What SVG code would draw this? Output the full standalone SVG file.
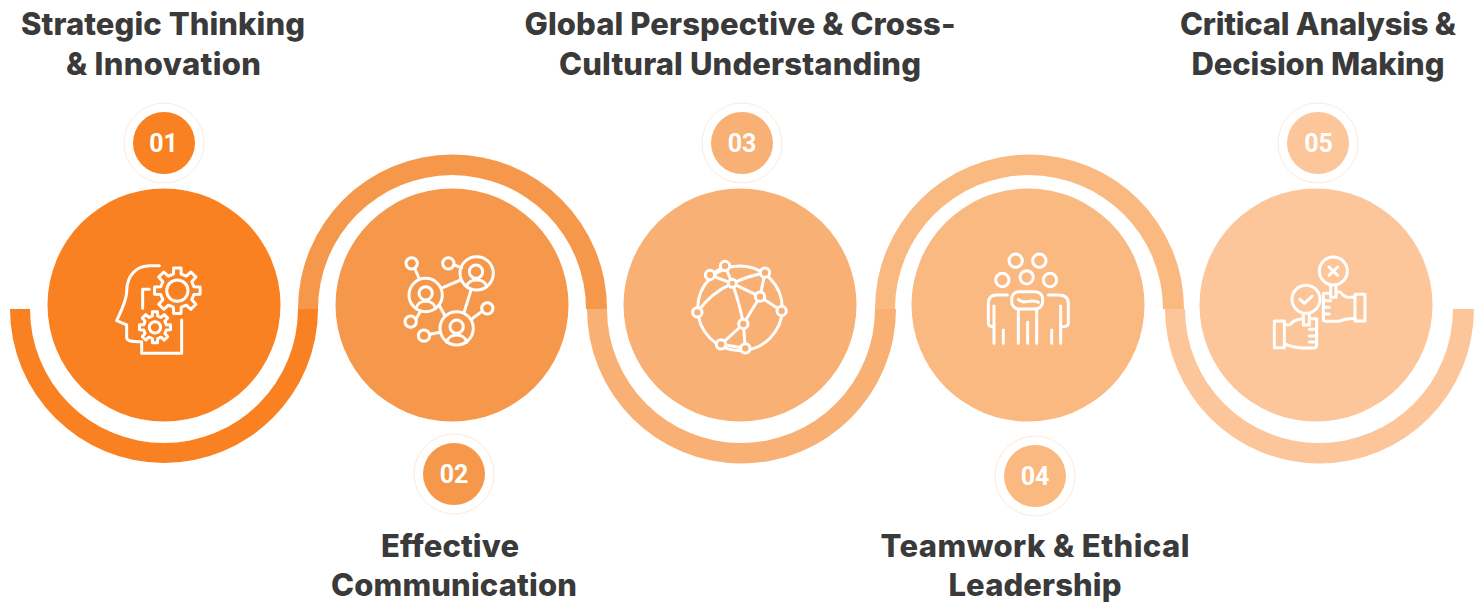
<svg xmlns="http://www.w3.org/2000/svg" width="1479" height="602" viewBox="0 0 1479 602">
<style>
.t{font-family:"Inter","Liberation Sans",sans-serif;font-weight:800;font-size:31px;fill:#3a3a3a;text-anchor:middle}
.n{font-family:"Roboto","Liberation Sans",sans-serif;font-weight:700;font-size:25px;fill:#fff;text-anchor:middle}
.i,.i *{fill:none;stroke:#fff;stroke-width:3;vector-effect:non-scaling-stroke;stroke-linecap:round;stroke-linejoin:round}
.i .h{fill:#f9b074}
.ring{fill:#fff;stroke:#fdeadb;stroke-width:1}
.c1{fill:#f98121}.c2{fill:#f6984b}.c3{fill:#f9b074}.c4{fill:#fab981}.c5{fill:#fcc69a}
</style>
<defs>
<path id="gear" class="i" d="M72,-17L99,-16L99,16L72,17L63,39L81,59L59,81L39,63L17,72L16,99L-16,99L-17,72L-39,63L-59,81L-81,59L-63,39L-72,17L-99,16L-99,-16L-72,-17L-63,-39L-81,-59L-59,-81L-39,-63L-17,-72L-16,-99L16,-99L17,-72L39,-63L59,-81L81,-59L63,-39Z"/>
</defs>
<rect width="1479" height="602" fill="#fff"/>
<g id="connectors">
<path class="c5" d="M1165,309H1185A134,134 0 0 0 1453,309H1474A154.500,154.500 0 0 1 1165,309Z"/>
<path class="c4" d="M875,309H895A134,134 0 0 1 1163,309H1184A154.500,154.500 0 0 0 875,309Z"/>
<path class="c3" d="M587,309H607A134,134 0 0 0 875,309H896A154.500,154.500 0 0 1 587,309Z"/>
<path class="c2" d="M298,309H318A134,134 0 0 1 586,309H607A154.500,154.500 0 0 0 298,309Z"/>
<path class="c1" d="M10,309H30A134,134 0 0 0 298,309H318A154,154 0 0 1 10,309Z"/>
</g>
<g id="node1">
<circle class="c1" cx="164" cy="305" r="116.500"/>
<circle class="ring" cx="164" cy="143" r="40"/>
<circle class="c1" cx="164" cy="143" r="31"/>
<text class="n" x="163.500" y="152">01</text>
<g class="i" transform="translate(100 250) scale(.3333)">
<path d="M178,47H150C110,47 80,75 80,125C80,150 65,180 50,212L80,225V262C80,272 88,275 125,275V310H245V210"/>
<path d="M148,118H128V175"/>
<use href="#gear" transform="translate(232 122) scale(.69)"/>
<circle cx="232" cy="122" r="32"/>
<use href="#gear" transform="translate(165 232) scale(.47)"/>
<circle cx="165" cy="232" r="17"/>
</g>
<text class="t" x="163" y="35" textLength="284">Strategic Thinking</text>
<text class="t" x="163.500" y="75" textLength="195">&amp; Innovation</text>
</g>
<g id="node2">
<circle class="c2" cx="452" cy="305" r="116.500"/>
<circle class="ring" cx="454" cy="474" r="40"/>
<circle class="c2" cx="454" cy="474" r="31"/>
<text class="n" x="454" y="483">02</text>
<g class="i" transform="translate(390 245) scale(.3333)">
<circle cx="107" cy="150" r="50"/><circle cx="260" cy="85" r="50"/><circle cx="200" cy="250" r="50"/>
<circle cx="65" cy="55" r="17"/><circle cx="175" cy="55" r="17"/><circle cx="62" cy="230" r="17"/><circle cx="102" cy="272" r="17"/><circle cx="292" cy="190" r="17"/>
<path d="M75,72L88,102M192,60L215,68M160,127L212,105M243,135L222,203M150,185L165,212M78,222L92,198M120,268L150,262M275,200L248,220"/>
<circle cx="107" cy="145" r="20"/><path d="M78,190C85,162 130,162 137,190"/>
<circle cx="258" cy="80" r="20"/><path d="M230,125C235,98 285,98 290,125"/>
<circle cx="200" cy="245" r="20"/><path d="M170,292C175,263 225,263 230,292"/>
</g>
<text class="t" x="450" y="557" textLength="138">Effective</text>
<text class="t" x="454" y="596" textLength="246">Communication</text>
</g>
<g id="node3">
<circle class="c3" cx="740" cy="305" r="116.500"/>
<circle class="ring" cx="742" cy="143" r="40"/>
<circle class="c3" cx="742" cy="143" r="31"/>
<text class="n" x="742" y="152">03</text>
<g class="i" transform="translate(680 250) scale(.3333)">
<circle cx="180" cy="175" r="127"/>
<path d="M135,48L90,75L157,100L135,48M157,100Q205,78 255,68L240,140L157,100M240,140L305,183M240,140L190,222M157,100Q180,165 190,222L123,283L196,295L190,222M157,100Q90,130 52,187"/>
<circle class="h" cx="135" cy="48" r="14"/><circle class="h" cx="90" cy="75" r="14"/><circle class="h" cx="157" cy="100" r="12"/><circle class="h" cx="255" cy="68" r="14"/><circle class="h" cx="240" cy="140" r="14"/><circle class="h" cx="305" cy="183" r="14"/><circle class="h" cx="52" cy="187" r="14"/><circle class="h" cx="190" cy="222" r="14"/><circle class="h" cx="123" cy="283" r="14"/><circle class="h" cx="196" cy="295" r="14"/>
</g>
<text class="t" x="740" y="35" textLength="431">Global Perspective &amp; Cross-</text>
<text class="t" x="740" y="75" textLength="362">Cultural Understanding</text>
</g>
<g id="node4">
<circle class="c4" cx="1028" cy="305" r="116.500"/>
<circle class="ring" cx="1035" cy="476" r="40"/>
<circle class="c4" cx="1035" cy="476" r="31"/>
<text class="n" x="1035" y="485">04</text>
<g class="i" transform="translate(970 245) scale(.3333)">
<circle cx="137" cy="47" r="20"/><circle cx="208" cy="47" r="20"/><circle cx="97" cy="105" r="20"/><circle cx="170" cy="97" r="20"/><circle cx="240" cy="105" r="20"/>
<path d="M112,150H80Q55,150 55,175V235Q55,245 67,245M72,183V295M100,255V295"/>
<path d="M235,150H265Q295,150 295,175V235Q295,245 280,245M272,183V295M245,255V295"/>
<path d="M145,195V295M200,195V295M173,232V295"/>
<rect x="125" y="140" width="93" height="52" rx="22"/>
<path d="M145,163C160,182 185,158 205,172"/>
</g>
<text class="t" x="1035" y="557" textLength="309">Teamwork &amp; Ethical</text>
<text class="t" x="1035" y="596" textLength="173">Leadership</text>
</g>
<g id="node5">
<circle class="c5" cx="1316" cy="305" r="116.500"/>
<circle class="ring" cx="1318" cy="143" r="40"/>
<circle class="c5" cx="1318" cy="143" r="31"/>
<text class="n" x="1318.500" y="152">05</text>
<g class="i" transform="translate(1260 250) scale(.3333)">
<circle cx="220" cy="63" r="42"/><path d="M207,51L233,76M233,51L207,76"/>
<circle cx="138" cy="148" r="42"/><path d="M120,148L133,160L157,138"/>
<path d="M212,105V142H228V105"/>
<rect x="285" y="133" width="30" height="80"/>
<path d="M285,142H262Q250,138 240,126H228M212,130H190V210Q192,214 200,214H235Q260,204 285,206"/>
<path d="M190,152H212M190,172H208M190,192H208"/>
<rect x="43" y="213" width="30" height="80"/>
<path d="M130,190V225H148V190"/>
<path d="M73,224H90Q100,208 130,206M148,206H170V285Q170,294 160,294H130Q105,294 73,282"/>
<path d="M170,238H148M170,258H148M170,276H148"/>
</g>
<text class="t" x="1318" y="35" textLength="276">Critical Analysis &amp;</text>
<text class="t" x="1318" y="75" textLength="253">Decision Making</text>
</g>
</svg>
